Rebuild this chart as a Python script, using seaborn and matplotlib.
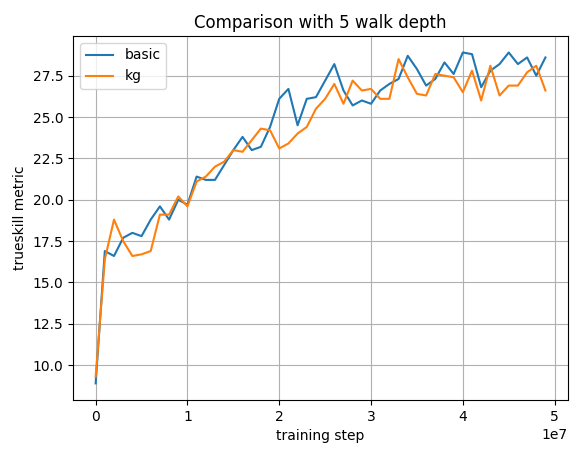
import numpy as np
import pandas as pd
import matplotlib
matplotlib.use("Agg")
import matplotlib.pyplot as plt
import seaborn as sns

steps = np.arange(50) * 1e6
basic = [8.9, 16.9, 16.6, 17.7, 18.0, 17.8, 18.8, 19.6, 18.8, 20.0,
         19.7, 21.4, 21.2, 21.2, 22.1, 23.0, 23.8, 23.0, 23.2, 24.4,
         26.1, 26.7, 24.5, 26.1, 26.2, 27.2, 28.2, 26.6, 25.7, 26.0,
         25.8, 26.6, 27.0, 27.3, 28.7, 27.9, 26.9, 27.3, 28.3, 27.6,
         28.9, 28.8, 26.8, 27.8, 28.2, 28.9, 28.2, 28.6, 27.5, 28.6]
kg = [9.3, 16.4, 18.8, 17.5, 16.6, 16.7, 16.9, 19.1, 19.1, 20.2,
      19.6, 21.1, 21.4, 22.0, 22.3, 23.0, 22.9, 23.6, 24.3, 24.2,
      23.1, 23.4, 24.0, 24.4, 25.5, 26.1, 27.0, 25.8, 27.2, 26.6,
      26.7, 26.1, 26.1, 28.5, 27.4, 26.4, 26.3, 27.6, 27.5, 27.4,
      26.5, 27.8, 26.0, 28.1, 26.3, 26.9, 26.9, 27.7, 28.1, 26.6]

fig, ax = plt.subplots(figsize=(5.76, 4.55), dpi=100)
fig.subplots_adjust(left=0.127, right=0.986, top=0.921, bottom=0.121)
sns.lineplot(x=steps, y=basic, ax=ax, label="basic")
sns.lineplot(x=steps, y=kg, ax=ax, label="kg")
ax.grid(True)
ax.set_title("Comparison with 5 walk depth")
ax.set_xlabel("training step")
ax.set_ylabel("trueskill metric")
ax.legend(loc="upper left")
plt.savefig("out.png")
